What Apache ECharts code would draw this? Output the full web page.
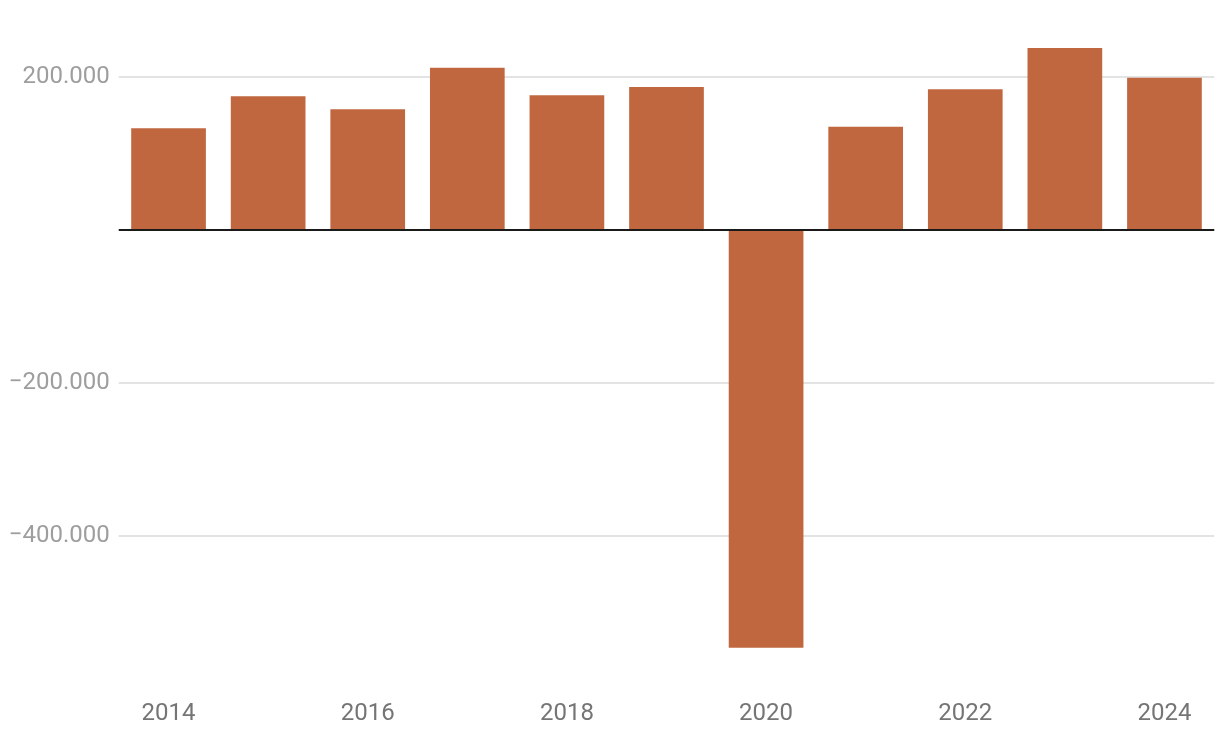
<!DOCTYPE html>
<html>
<head>
<meta charset="utf-8">
<script src="https://cdn.jsdelivr.net/npm/echarts@6/dist/echarts.min.js"></script>
<style>
html,body{margin:0;padding:0;background:#fff;}
#chart{width:1220px;height:742px;}
</style>
</head>
<body>
<div id="chart"></div>
<script>
const years = ['2014','2015','2016','2017','2018','2019','2020','2021','2022','2023','2024'];
const values = [133000, 175000, 158000, 212000, 176000, 187000, -546000, 135000, 184000, 238000, 199000];
const yTicks = { min: -600000, max: 250000, interval: 200000 };

function fmt(v) {
  const s = Math.abs(v).toString().replace(/\B(?=(\d{3})+(?!\d))/g, '.');
  return (v < 0 ? '\u2212' : '') + s;
}

const chart = echarts.init(document.getElementById('chart'), null, { renderer: 'canvas' });
chart.setOption({
  animation: false,
  backgroundColor: '#ffffff',
  grid: { left: 118.75, right: 5.75, top: 38.75, bottom: 53, containLabel: false },
  xAxis: {
    type: 'category',
    data: years,
    boundaryGap: true,
    axisLine: { show: false, onZero: false },
    axisTick: { show: false },
    splitLine: { show: false },
    axisLabel: {
      interval: 1,
      margin: 13,
      color: '#757575',
      fontFamily: 'Roboto',
      fontSize: 24
    }
  },
  yAxis: {
    type: 'value',
    min: yTicks.min,
    max: yTicks.max,
    interval: yTicks.interval,
    axisLine: { show: false },
    axisTick: { show: false },
    axisLabel: {
      margin: 9,
      color: '#9e9e9e',
      fontFamily: 'Roboto',
      fontSize: 24,
      showMinLabel: false,
      showMaxLabel: false,
      formatter: function (v) { return v === 0 ? '' : fmt(v); }
    },
    splitLine: {
      show: true,
      showMinLine: false,
      showMaxLine: false,
      lineStyle: { color: '#e3e3e3', width: 2 }
    }
  },
  series: [{
    type: 'bar',
    data: values,
    barCategoryGap: '25%',
    itemStyle: { color: '#c0673f' },
    markLine: {
      silent: true,
      symbol: ['none', 'none'],
      label: { show: false },
      lineStyle: { color: '#1a1a1a', width: 2, type: 'solid' },
      data: [{ yAxis: 0 }]
    }
  }]
});
</script>
</body>
</html>
